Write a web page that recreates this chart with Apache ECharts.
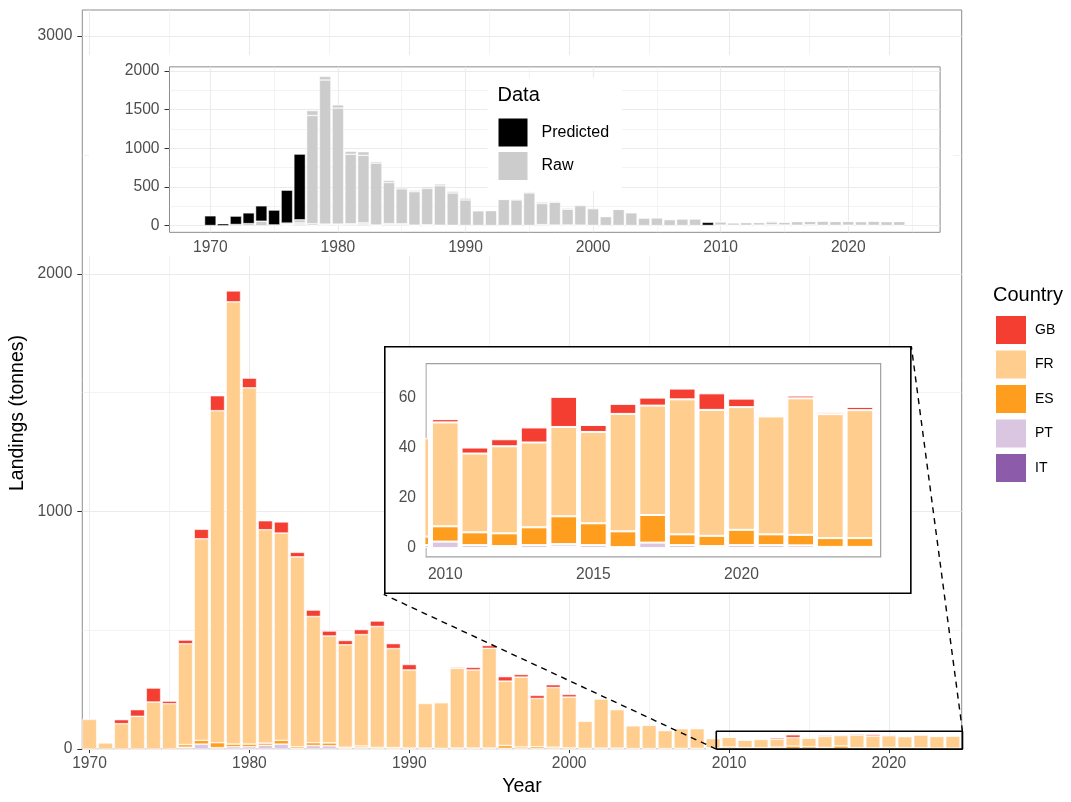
<!DOCTYPE html>
<html><head><meta charset="utf-8">
<script src="https://cdn.jsdelivr.net/npm/echarts@6/dist/echarts.min.js"></script>
<style>
html,body{margin:0;padding:0;background:#fff;}
#main{position:absolute;left:0;top:0;width:1071px;height:802px;}
#topInset,#zoomInset{position:absolute;background:#fff;}
</style></head><body>
<div id="main"></div><div id="topInset"></div><div id="zoomInset"></div>
<script>
// ---------- data (tonnes) ----------
const years = [1970,1971,1972,1973,1974,1975,1976,1977,1978,1979,
  1980,1981,1982,1983,1984,1985,1986,1987,1988,1989,
  1990,1991,1992,1993,1994,1995,1996,1997,1998,1999,
  2000,2001,2002,2003,2004,2005,2006,2007,2008,2009,
  2010,2011,2012,2013,2014,2015,2016,2017,2018,2019,
  2020,2021,2022,2023,2024];
const GB = [3,0,17,28,59,11,16,40,63,46,
  41,38,47,19,27,21,18,21,23,21,
  23,0,3,4,11,12,19,11,13,12,
  11,0,2,0,0,0,0,0,0,0,
  1.3,2.4,2.8,6.0,12.0,2.8,4.0,3.2,4.3,6.6,
  3.4,0,1.1,0.8,1.3];
const FR = [125,26,107,138,198,191,424,848,1397,1861,
  1499,898,872,799,531,450,431,469,509,417,
  329,188,192,336,329,420,271,294,203,251,
  214,114,207,162,96,98,76,83,83,39.2,
  41.4,31.4,34.7,33.8,35.6,36.4,46.8,43.6,53.8,50.2,
  48.9,47.0,54.4,49.4,51.0];
const ES = [0,0,0,0,0,0,11,16,21,11,
  11,9,16,7,12,12,5,7,5,5,
  4,4,3,4,4,4,12,7,8,7,
  5,3,4,4,2,2,2,3,3,3.4,
  6.1,5.1,5.1,7.1,11.1,8.7,6.3,11.0,4.3,4.1,
  6.1,4.3,4.2,3.5,3.5];
const PT = [0,0,0,0,0,0,8,21,6,10,
  10,16,21,3,15,14,3,6,2,1,
  0,0,0,0,0,0,3,2,2,1,
  0,0,0,0,0,0,0,0,0,1.2,
  2.6,1.2,0.8,1.2,1.0,1.2,0.4,2.2,1.2,0.8,
  1.2,1.2,1.1,0.5,0.5];
const IT = [0,0,0,0,0,0,0,0,0,0,
  0,0,0,0,0,0,0,0,0,0,
  0,0,0,0,0,0,0,0,0,0,
  0,0,0,0,0,0,0,0,0,0,
  0,0,0,0,0.6,0,0,0,0,0,
  0,0,0,0,0];
// years where the FR landings are model predictions (top inset)
const predictedYears = [1970,1971,1972,1973,1974,1975,1976,1977,2009];

// tick labels
const mainXTicks = [1970,1980,1990,2000,2010,2020];
const mainYTicks = [0,1000,2000,3000];
const topXTicks = [1970,1980,1990,2000,2010,2020];
const topYTicks = [0,500,1000,1500,2000];
const zoomXTicks = [2010,2015,2020];
const zoomYTicks = [0,20,40,60];
// gridline positions
const mainXMinor = [1975,1985,1995,2005,2015];
const mainYMinor = [500,1500,2500];
const topXMinor = [1975,1985,1995,2005,2015,2025];
const topYMinor = [250,750,1250,1750];

// magnified region and inset placement (main data coordinates)
const zoomFrom = [2009.2, 2024.6, 0, 75];
const zoomTo = [1988.4, 2021.4, 651, 1695];
const topTo = [1970, 2024, 2075, 2920];

// ---------- styling ----------
const FONT = "'Liberation Sans', Arial, sans-serif";
const COLORS = {GB:'#F33E31', FR:'#FFCD8E', ES:'#FF9E1E', PT:'#DAC6E0', IT:'#8C5CAB'};
const countries = {GB, FR, ES, PT, IT};
const stackOrder = ['IT','PT','ES','FR','GB'];
const nz = v => (v === 0 ? null : v);
const GRID = '#EBEBEB';
const AXT = '#4D4D4D';

function gridMarks(xMaj, xMin, yMaj, yMin) {
  const d = [];
  xMaj.forEach(v => d.push({xAxis: v, lineStyle: {width: 1.1}}));
  xMin.forEach(v => d.push({xAxis: v, lineStyle: {width: 0.6}}));
  yMaj.forEach(v => d.push({yAxis: v, lineStyle: {width: 1.1}}));
  yMin.forEach(v => d.push({yAxis: v, lineStyle: {width: 0.6}}));
  return {silent: true, symbol: ['none','none'], z: 1, animation: false,
    label: {show: false}, lineStyle: {color: GRID, type: 'solid'}, data: d};
}
// value first so that the stack is applied to the value dimension
function barSeries(name, vals, color, border) {
  return {type: 'bar', name, stack: 'total', barWidth: '90%', z: 2,
    dimensions: ['v', 'year'], encode: {x: 1, y: 0},
    data: years.map((y, i) => [vals[i], y]),
    itemStyle: {color, borderColor: '#fff', borderWidth: border}};
}
function countrySeries(border, marks) {
  return stackOrder.map((c, k) => {
    const s = barSeries(c, countries[c].map(nz), COLORS[c], border);
    if (k === 0 && marks) s.markLine = marks;
    return s;
  });
}
const fmt = v => String(v);

// ---------- main chart ----------
const mainChart = echarts.init(document.getElementById('main'));
const lineS = (data, dashed) => ({type: 'line', data, symbol: 'none', clip: false, silent: true, z: 6,
  lineStyle: {color: '#000', width: dashed ? 1.4 : 1.6, type: dashed ? [6, 5] : 'solid'}});
const mainOption = {
  animation: false,
  grid: {left: 82.3, right: 109.3, top: 10, bottom: 48, show: true, borderColor: '#8C8C8C', borderWidth: 1, backgroundColor: 'transparent'},
  xAxis: {type: 'value', min: 1969.55, max: 2024.55, splitLine: {show: false}, axisLine: {show: false},
    axisTick: {show: true, customValues: mainXTicks, length: 4, lineStyle: {color: '#333'}},
    axisLabel: {customValues: mainXTicks, formatter: fmt, color: AXT, fontSize: 15.6, fontFamily: FONT, margin: 7},
    name: 'Year', nameLocation: 'middle', nameGap: 27, nameTextStyle: {fontSize: 19.5, color: '#000', fontFamily: FONT}},
  yAxis: {type: 'value', min: 0, max: 3110, splitLine: {show: false}, axisLine: {show: false},
    axisTick: {show: true, customValues: mainYTicks, length: 5, lineStyle: {color: '#333'}},
    axisLabel: {customValues: mainYTicks, formatter: fmt, color: AXT, fontSize: 15.6, fontFamily: FONT, margin: 10}},
  legend: {data: ['GB','FR','ES','PT','IT'], orient: 'vertical', left: 989, top: 309, itemWidth: 32, itemHeight: 30,
    itemGap: 2.5, icon: 'rect', selectedMode: false,
    textStyle: {fontSize: 14, color: '#000', fontFamily: FONT, padding: [0,0,0,3]}},
  graphic: [
    {type: 'text', left: 993, top: 285, style: {text: 'Country', fontSize: 20, fill: '#000', fontFamily: FONT}},
    {type: 'text', x: 18, y: 413, rotation: Math.PI / 2,
      style: {text: 'Landings (tonnes)', fontSize: 19.5, fill: '#000', fontFamily: FONT, align: 'center', verticalAlign: 'middle'}}
  ],
  series: [
    ...countrySeries(0.6, gridMarks(mainXTicks, mainXMinor, mainYTicks, mainYMinor)),
    lineS([[zoomFrom[0], zoomFrom[2]], [zoomFrom[1], zoomFrom[2]], [zoomFrom[1], zoomFrom[3]], [zoomFrom[0], zoomFrom[3]], [zoomFrom[0], zoomFrom[2]]], false),
    lineS([[zoomFrom[0], zoomFrom[2]], [zoomTo[0], zoomTo[2]]], true),
    lineS([[zoomFrom[1], zoomFrom[3]], [zoomTo[1], zoomTo[3]]], true)
  ]
};
mainChart.setOption(mainOption);

function placeDiv(id, to) {
  const a = mainChart.convertToPixel({gridIndex: 0}, [to[0], to[3]]);
  const b = mainChart.convertToPixel({gridIndex: 0}, [to[1], to[2]]);
  const el = document.getElementById(id);
  el.style.left = a[0] + 'px'; el.style.top = a[1] + 'px';
  el.style.width = (b[0] - a[0]) + 'px'; el.style.height = (b[1] - a[1]) + 'px';
  return {x: a[0], y: a[1], w: b[0] - a[0], h: b[1] - a[1], el};
}

// ---------- top inset (Data type) ----------
const tb = placeDiv('topInset', topTo);
const topChart = echarts.init(tb.el);
const isPred = years.map(y => predictedYears.includes(y));
const rawSeries = stackOrder.map((c, k) => {
  const vals = countries[c].map((v, i) => (c === 'FR' && isPred[i]) ? null : nz(v));
  const s = barSeries('Raw', vals, '#CCCCCC', 0.5);
  if (k === 0) s.markLine = gridMarks(topXTicks, topXMinor, topYTicks, topYMinor);
  return s;
});
const predSeries = barSeries('Predicted', FR.map((v, i) => isPred[i] ? nz(v) : null), '#000', 0.5);
topChart.setOption({
  animation: false,
  grid: {left: 170 - tb.x, top: 67 - tb.y, right: tb.x + tb.w - 941, bottom: tb.y + tb.h - 232.3,
    show: true, borderColor: '#8C8C8C', borderWidth: 1},
  xAxis: {type: 'value', min: 1966.8, max: 2027.2, splitLine: {show: false}, axisLine: {show: false},
    axisTick: {show: true, customValues: topXTicks, length: 4, lineStyle: {color: '#333'}},
    axisLabel: {customValues: topXTicks, formatter: fmt, color: AXT, fontSize: 15.6, fontFamily: FONT, margin: 7}},
  yAxis: {type: 'value', min: -85, max: 2052, splitLine: {show: false}, axisLine: {show: false},
    axisTick: {show: true, customValues: topYTicks, length: 5, lineStyle: {color: '#333'}},
    axisLabel: {customValues: topYTicks, formatter: fmt, color: AXT, fontSize: 15.6, fontFamily: FONT, margin: 10}},
  legend: {data: ['Predicted', 'Raw'], orient: 'vertical', left: 488 - tb.x, top: 78 - tb.y,
    padding: [38.7, 13, 9, 9], backgroundColor: '#fff', itemWidth: 31, itemHeight: 30, itemGap: 1.5,
    icon: 'rect', selectedMode: false,
    textStyle: {fontSize: 16, color: '#000', fontFamily: FONT, padding: [0,0,0,8]}},
  graphic: [{type: 'text', left: 498 - tb.x, top: 86 - tb.y, z: 100,
    style: {text: 'Data', fontSize: 20, fill: '#000', fontFamily: FONT}}],
  series: [...rawSeries, predSeries]
});

// ---------- zoom inset (2009-2024) ----------
const zb = placeDiv('zoomInset', zoomTo);
const zoomChart = echarts.init(zb.el);
const zLeft = 425.7 - zb.x;
zoomChart.setOption({
  animation: false,
  grid: {left: zLeft, top: 364 - zb.y, right: zb.x + zb.w - 880, bottom: zb.y + zb.h - 557.3,
    show: true, borderColor: '#A0A0A0', borderWidth: 1.2},
  xAxis: {type: 'value', min: 2009.35, max: 2024.7, splitLine: {show: false}, axisLine: {show: false},
    axisTick: {show: false}, z: 10,
    axisLabel: {customValues: zoomXTicks, formatter: fmt, color: AXT, fontSize: 15.6, fontFamily: FONT, margin: 10}},
  yAxis: {type: 'value', min: -3.5, max: 73.5, splitLine: {show: false}, axisLine: {show: false},
    axisTick: {show: false}, z: 10,
    axisLabel: {customValues: zoomYTicks, formatter: fmt, color: AXT, fontSize: 15.6, fontFamily: FONT, margin: 10}},
  graphic: [
    // panel clipping mask: hides the part of the 2009 bar left of the panel
    {type: 'rect', z: 5, silent: true, shape: {x: 0, y: 0, width: zLeft - 0.6, height: zb.h},
      style: {fill: '#fff'}},
    {type: 'rect', z: 100, silent: true,
      shape: {x: 0.8, y: 0.8, width: zb.w - 1.6, height: zb.h - 1.6},
      style: {fill: 'none', stroke: '#000', lineWidth: 1.6}}],
  series: countrySeries(1, null)
});
</script>
</body></html>
